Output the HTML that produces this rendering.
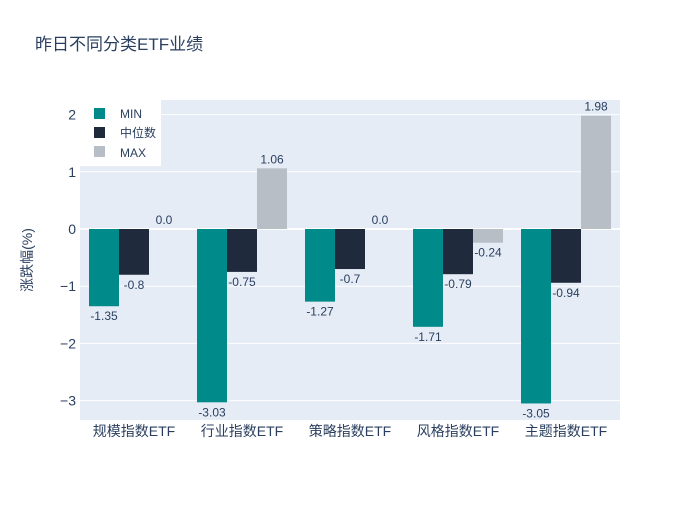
<!DOCTYPE html>
<html><head><meta charset="utf-8">
<style>
body{margin:0;background:#fff;}
svg{font-family:"Liberation Sans","Noto Sans CJK SC",sans-serif;}
</style></head>
<body>
<svg id="chart" width="700" height="500">
<rect x="0" y="0" width="700" height="500" fill="#fff"/>
<text x="35" y="50" font-size="17" fill="#2a3f5f">昨日不同分类ETF业绩</text>
<rect x="80" y="100" width="540" height="320" fill="#e5ecf6"/>
<g id="grid"></g>
<g id="bars"></g>
<g id="labels"></g>
<text transform="translate(32,260) rotate(-90)" text-anchor="middle" font-size="14" fill="#2a3f5f">涨跌幅(%)</text>
<g>
<rect x="80" y="100" width="81" height="66" fill="#fff"/>
<rect x="94" y="108" width="11" height="11" fill="#008b8a"/>
<text x="120" y="118" font-size="12" fill="#2a3f5f">MIN</text>
<rect x="94" y="127" width="11" height="11" fill="#1f2a3c"/>
<text x="120" y="137" font-size="12" fill="#2a3f5f">中位数</text>
<rect x="94" y="146" width="11" height="11" fill="#b8bec6"/>
<text x="120" y="157" font-size="12" fill="#2a3f5f">MAX</text>
</g>
</svg>
<script>
const categories=["规模指数ETF","行业指数ETF","策略指数ETF","风格指数ETF","主题指数ETF"];
const minVals=[-1.35,-3.03,-1.27,-1.71,-3.05];
const medVals=[-0.8,-0.75,-0.7,-0.79,-0.94];
const maxVals=[0.0,1.06,0.0,-0.24,1.98];
const yTicks=[-3,-2,-1,0,1,2];
const yTickLabels=["−3","−2","−1","0","1","2"];
const NS="http://www.w3.org/2000/svg";
const X0=80,PW=540,Y0=229,UNIT=57.2;
function y(v){return Y0-v*UNIT;}
function bandX(i){return X0+PW/categories.length*i;}
const band=PW/categories.length,bw=30,gpad=(band-3*bw)/2;
function mk(tag,attrs,parent){const e=document.createElementNS(NS,tag);for(const k in attrs)e.setAttribute(k,attrs[k]);document.getElementById(parent).appendChild(e);return e;}
yTicks.forEach((t,i)=>{
 const g=mk("line",{x1:X0,x2:X0+PW,y1:y(t),y2:y(t),stroke:"#fff","stroke-width":t===0?2:1},"grid");
 
 
 const l=mk("text",{x:X0-4,y:y(t)+5,"text-anchor":"end","font-size":14,fill:"#2a3f5f"},"grid");
 l.textContent=yTickLabels[i];
 
 
});
const series=[[minVals,"#008b8a","min"],[medVals,"#1f2a3c","median"],[maxVals,"#b8bec6","max"]];
categories.forEach((c,i)=>{
 const t=mk("text",{x:bandX(i)+band/2,y:436,"text-anchor":"middle","font-size":14,fill:"#2a3f5f"},"labels");
 t.textContent=c;
 
 
 series.forEach((s,j)=>{
  const v=s[0][i],x=bandX(i)+gpad+j*bw;
  const top=Math.min(y(v),Y0),h=Math.abs(y(v)-Y0);
  const r=mk("rect",{x:x,y:top,width:bw,height:h,fill:s[1]},"bars");
  
  
  const lt=mk("text",{x:x+bw/2,y:v<0?y(v)+14:y(v)-5,"text-anchor":"middle","font-size":12,fill:"#2a3f5f"},"labels");
  lt.textContent=(v===0?"0.0":String(v));
  
  
 });
});
</script>
</body></html>
